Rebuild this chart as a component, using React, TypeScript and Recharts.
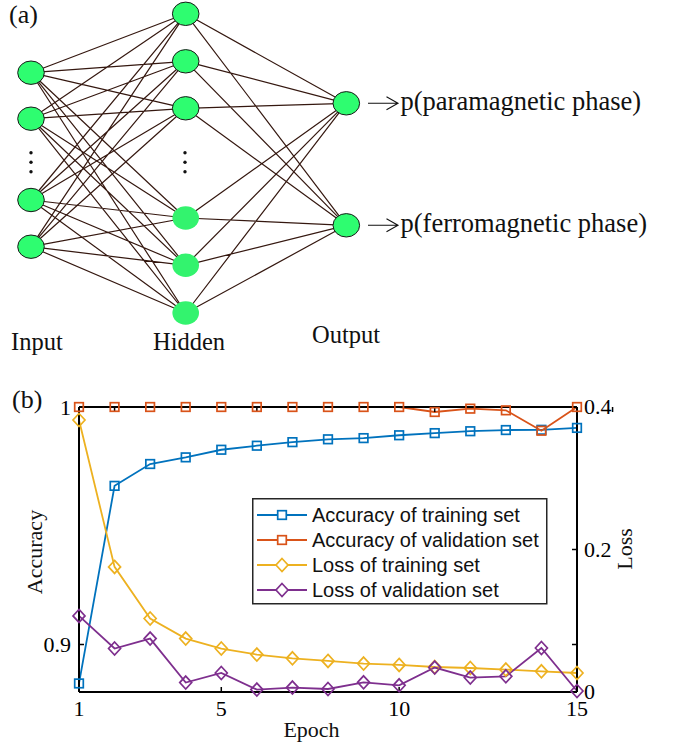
import React from 'react';
import { ComposedChart, LineChart, Line, Scatter, XAxis, YAxis, Legend, Label } from 'recharts';

// ---------- Panel (b) data ----------
const epochs = [1, 2, 3, 4, 5, 6, 7, 8, 9, 10, 11, 12, 13, 14, 15];
const accuracyTraining = [0.8836, 0.9668, 0.976, 0.9788, 0.982, 0.9837, 0.9852, 0.9864, 0.9869, 0.9881, 0.989, 0.9898, 0.9903, 0.9904, 0.9912];
const accuracyValidation = [1, 1, 1, 1, 1, 1, 1, 1, 1, 1, 0.9979, 0.9993, 0.9986, 0.99, 1];
const lossTraining = [0.3817, 0.1756, 0.1031, 0.075, 0.061, 0.0525, 0.0473, 0.0436, 0.0399, 0.038, 0.0351, 0.0337, 0.0315, 0.029, 0.0267];
const lossValidation = [0.1068, 0.061, 0.075, 0.0132, 0.0267, 0.0034, 0.0062, 0.0042, 0.0136, 0.0094, 0.0343, 0.0202, 0.022, 0.0618, 0.0014];
const epochTicks = [1, 5, 10, 15];
const accuracyTicks = [0.9, 1];
const accuracyDomain = [0.88, 1];
const lossDomain = [0, 0.4];
// right axis also shows a mirrored (unlabelled) tick at the 0.9-accuracy level
const mirroredLossTick = ((0.9 - accuracyDomain[0]) / (accuracyDomain[1] - accuracyDomain[0])) * (lossDomain[1] - lossDomain[0]);
const lossTicks = [0, mirroredLossTick, 0.2, 0.4];
const seriesNames = ['Accuracy of training set', 'Accuracy of validation set', 'Loss of training set', 'Loss of validation set'];
const seriesColors = ['#0072BD', '#D95319', '#EDB120', '#7E2F8E'];

// ---------- Panel (a) data (layout units of the diagram) ----------
const layerX = [31, 185.7, 346.3];
const inputNodeY = [72.7, 118.7, 200, 246.7];
const hiddenNodeY = [13.8, 61.3, 108.3, 218, 265.3, 313];
const hiddenOutlined = [true, true, true, false, false, false];
const outputNodeY = [103.3, 225.3];
const ellipsisY = [152.7, 162.3, 171.7];
const layerNames = ['Input', 'Hidden', 'Output'];
const outputNames = ['p(paramagnetic phase)', 'p(ferromagnetic phase)'];

const chartData = epochs.map((e, i) => ({
  epoch: e,
  accTrain: accuracyTraining[i],
  accVal: accuracyValidation[i],
  lossTrain: lossTraining[i],
  lossVal: lossValidation[i],
}));

const nodes = [
  ...inputNodeY.map((y) => ({ x: layerX[0], y, outlined: true })),
  ...hiddenNodeY.map((y, i) => ({ x: layerX[1], y, outlined: hiddenOutlined[i] })),
  ...outputNodeY.map((y) => ({ x: layerX[2], y, outlined: true })),
];

const edges: { x: number; y: number | null }[] = [];
inputNodeY.forEach((a) =>
  hiddenNodeY.forEach((b) => {
    edges.push({ x: layerX[0], y: a }, { x: layerX[1], y: b }, { x: layerX[1], y: null });
  })
);
hiddenNodeY.forEach((a) =>
  outputNodeY.forEach((b) => {
    edges.push({ x: layerX[1], y: a }, { x: layerX[2], y: b }, { x: layerX[2], y: null });
  })
);

const ellipsisDots = [
  ...ellipsisY.map((y) => ({ x: layerX[0], y })),
  ...ellipsisY.map((y) => ({ x: layerX[1] - 0.7, y })),
];

const SERIF = "'Liberation Serif', 'Times New Roman', serif";
const SANS = "'Liberation Sans', Arial, sans-serif";

const NodeShape = (props: any) => {
  const { cx, cy, payload } = props;
  if (cx == null || cy == null) return null;
  return (
    <ellipse
      cx={cx}
      cy={cy}
      rx={13.3}
      ry={11.7}
      fill={payload.outlined ? '#2EFD70' : '#33F36E'}
      stroke={payload.outlined ? '#1a1a1a' : 'none'}
      strokeWidth={1}
    />
  );
};

const DotShape = (props: any) => {
  const { cx, cy } = props;
  if (cx == null || cy == null) return null;
  return <circle cx={cx} cy={cy} r={1.7} fill="#111" />;
};

const makeSquare = (color: string) => (props: any) => {
  const { cx, cy, index } = props;
  if (cx == null || cy == null) return <g key={`n${index}`} />;
  return <rect key={`s${index}`} x={cx - 4.3} y={cy - 4.3} width={8.6} height={8.6} fill="none" stroke={color} strokeWidth={1.7} />;
};

const makeDiamond = (color: string) => (props: any) => {
  const { cx, cy, index } = props;
  if (cx == null || cy == null) return <g key={`n${index}`} />;
  return (
    <path
      key={`d${index}`}
      d={`M${cx},${cy - 6.5}L${cx + 6},${cy}L${cx},${cy + 6.5}L${cx - 6},${cy}Z`}
      fill="none"
      stroke={color}
      strokeWidth={1.7}
    />
  );
};

const legendMarkers = ['square', 'square', 'diamond', 'diamond'];

const LegendBox = () => (
  <svg width={296} height={107} style={{ display: 'block' }}>
    <rect x={0.75} y={0.75} width={294} height={105} fill="#fff" stroke="#262626" strokeWidth={1.5} />
    {seriesNames.map((name, i) => {
      const cy = 17 + i * 25;
      const c = seriesColors[i];
      return (
        <g key={name}>
          <line x1={5} x2={55} y1={cy} y2={cy} stroke={c} strokeWidth={1.8} />
          {legendMarkers[i] === 'square' ? (
            <rect x={30 - 4.3} y={cy - 4.3} width={8.6} height={8.6} fill="#fff" stroke={c} strokeWidth={1.7} />
          ) : (
            <path d={`M30,${cy - 6.5}L36,${cy}L30,${cy + 6.5}L24,${cy}Z`} fill="#fff" stroke={c} strokeWidth={1.7} />
          )}
          <text x={60} y={cy + 7} fontFamily={SANS} fontSize={20} fill="#111">
            {name}
          </text>
        </g>
      );
    })}
  </svg>
);

const axisLine = { stroke: '#000', strokeWidth: 2 };
const tickLine = { stroke: '#000', strokeWidth: 1.5 };
const tickStyle = { fill: '#000', fontSize: 22, fontFamily: SERIF };

const fmtLoss = (v: number) => (v === mirroredLossTick ? '' : String(Math.round(v * 100) / 100));

const RightTick = (props: any) => {
  const { x, y, payload } = props;
  const label = fmtLoss(payload.value);
  if (!label) return <g />;
  return (
    <text x={x} y={y} dy="0.34em" textAnchor="start" fontFamily={SERIF} fontSize={22} fill="#000">
      {label}
    </text>
  );
};

export default function App() {
  return (
    <div style={{ position: 'absolute', left: 0, top: 0, width: 678, height: 750, background: '#fff' }}>
      {/* Panel (a) */}
      <div style={{ position: 'absolute', left: 0, top: 0 }}>
        <ComposedChart width={678} height={360} margin={{ top: 0, right: 0, bottom: 0, left: 0 }}>
          <XAxis type="number" dataKey="x" domain={[0, 678]} hide />
          <YAxis type="number" dataKey="y" domain={[0, 360]} reversed hide />
          <Line
            data={edges}
            dataKey="y"
            stroke="#351810"
            strokeWidth={1.2}
            dot={false}
            activeDot={false}
            connectNulls={false}
            isAnimationActive={false}
          />
          <Scatter data={nodes} shape={NodeShape} isAnimationActive={false} />
          <Scatter data={ellipsisDots} shape={DotShape} isAnimationActive={false} />
          <text x={9} y={23} fontFamily={SERIF} fontSize={26} fill="#111">(a)</text>
          <text x={11} y={350} fontFamily={SERIF} fontSize={24.5} fill="#111">{layerNames[0]}</text>
          <text x={153} y={350} fontFamily={SERIF} fontSize={24.5} fill="#111">{layerNames[1]}</text>
          <text x={312} y={343} fontFamily={SERIF} fontSize={24.5} fill="#111">{layerNames[2]}</text>
          {outputNodeY.map((y, i) => (
            <g key={outputNames[i]}>
              <path
                d={`M368,${y}L398,${y}M386.5,${y - 6.5}L398,${y}L386.5,${y + 6.5}`}
                stroke="#111"
                strokeWidth={1.1}
                fill="none"
              />
              <text x={400.5} y={y + 6.8} fontFamily={SERIF} fontSize={26.5} fill="#111">
                {outputNames[i]}
              </text>
            </g>
          ))}
        </ComposedChart>
      </div>

      {/* Panel (b) */}
      <div style={{ position: 'absolute', left: 0, top: 370 }}>
        <LineChart width={678} height={380} data={chartData} margin={{ top: 32, right: 0, bottom: 0, left: 0 }}>
          <XAxis
            dataKey="epoch"
            type="number"
            domain={[1, 15]}
            ticks={epochTicks}
            interval={0}
            height={58}
            axisLine={axisLine}
            tickLine={tickLine}
            tickSize={-5}
            tickMargin={13}
            tick={tickStyle}
          >
            <Label
              content={() => (
                <text x={311.5} y={367} textAnchor="middle" fontFamily={SERIF} fontSize={22} fill="#111">
                  Epoch
                </text>
              )}
            />
          </XAxis>
          <XAxis
            xAxisId="top"
            orientation="top"
            type="number"
            domain={[1, 15]}
            ticks={epochTicks}
            interval={0}
            height={5}
            axisLine={axisLine}
            tickLine={tickLine}
            tickSize={-5}
            tickFormatter={() => ''}
          />
          <YAxis
            yAxisId="left"
            type="number"
            domain={accuracyDomain}
            ticks={accuracyTicks}
            interval={0}
            width={79}
            axisLine={axisLine}
            tickLine={tickLine}
            tickSize={-5}
            tickMargin={13}
            tick={tickStyle}
            tickFormatter={(v: number) => String(v)}
          >
            <Label
              content={() => (
                <text
                  transform="translate(42,182) rotate(-90)"
                  textAnchor="middle"
                  fontFamily={SERIF}
                  fontSize={22}
                  fill="#111"
                >
                  Accuracy
                </text>
              )}
            />
          </YAxis>
          <YAxis
            yAxisId="right"
            orientation="right"
            type="number"
            domain={lossDomain}
            ticks={lossTicks}
            interval={0}
            width={101}
            axisLine={axisLine}
            tickLine={tickLine}
            tickSize={-5}
            tickMargin={12}
            tick={RightTick}
          >
            <Label
              content={() => (
                <text
                  transform="translate(631.5,179) rotate(-90)"
                  textAnchor="middle"
                  fontFamily={SERIF}
                  fontSize={22}
                  fill="#111"
                >
                  Loss
                </text>
              )}
            />
          </YAxis>
          <Line yAxisId="left" dataKey="accTrain" name={seriesNames[0]} stroke={seriesColors[0]} strokeWidth={1.8} dot={makeSquare(seriesColors[0])} activeDot={false} isAnimationActive={false} />
          <Line yAxisId="left" dataKey="accVal" name={seriesNames[1]} stroke={seriesColors[1]} strokeWidth={1.8} dot={makeSquare(seriesColors[1])} activeDot={false} isAnimationActive={false} />
          <Line yAxisId="right" dataKey="lossTrain" name={seriesNames[2]} stroke={seriesColors[2]} strokeWidth={1.8} dot={makeDiamond(seriesColors[2])} activeDot={false} isAnimationActive={false} />
          <Line yAxisId="right" dataKey="lossVal" name={seriesNames[3]} stroke={seriesColors[3]} strokeWidth={1.8} dot={makeDiamond(seriesColors[3])} activeDot={false} isAnimationActive={false} />
          <Legend
            layout="vertical"
            align="center"
            verticalAlign="middle"
            content={() => <LegendBox />}
            wrapperStyle={{ position: 'absolute', left: 251.5, top: 127.5, width: 296, height: 107, margin: 0 }}
          />
          <text x={12} y={38} fontFamily={SERIF} fontSize={26} fill="#111">(b)</text>
        </LineChart>
      </div>
    </div>
  );
}
